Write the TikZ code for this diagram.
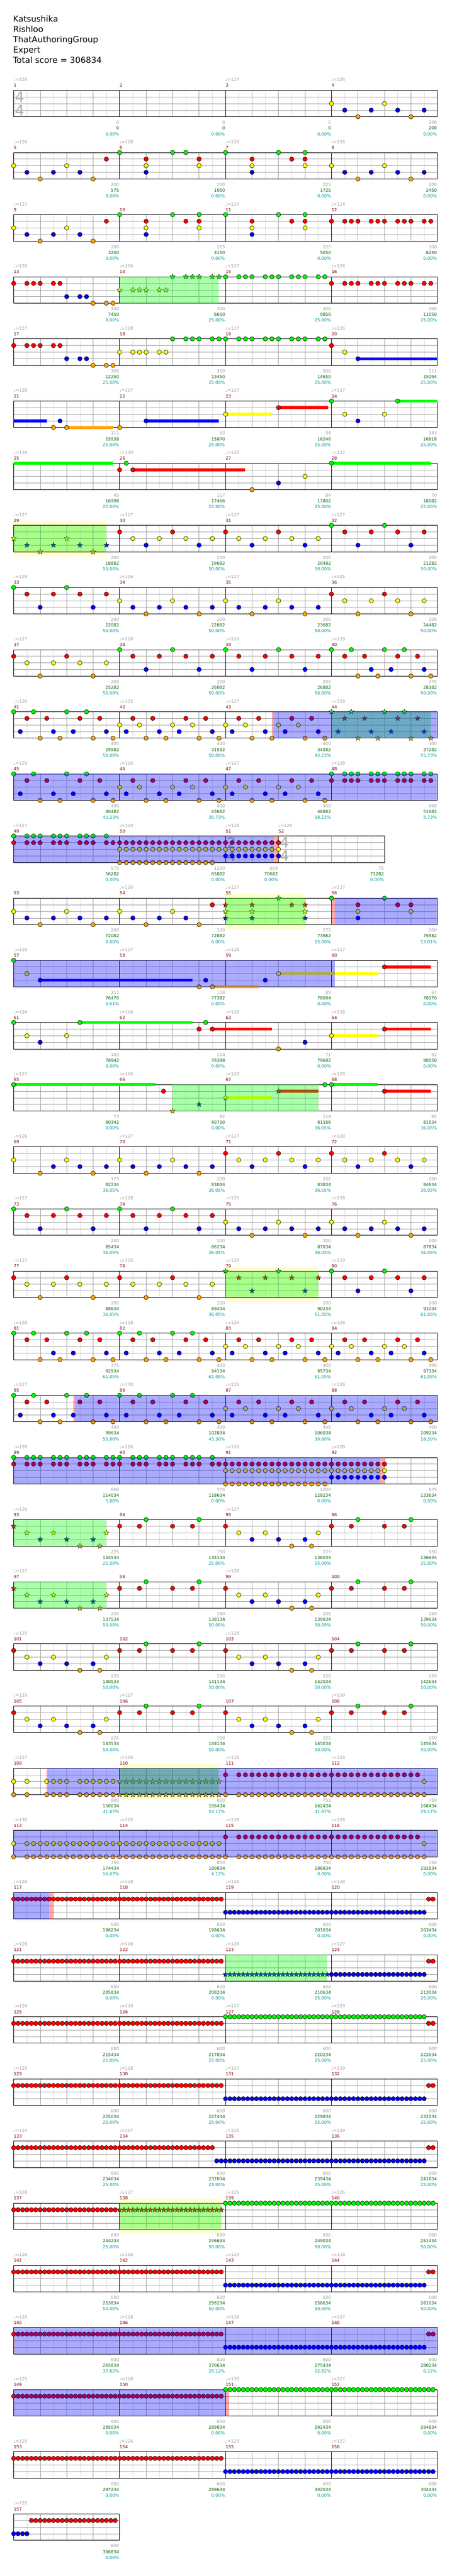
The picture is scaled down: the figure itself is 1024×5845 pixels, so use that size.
\documentclass[tikz,border=0pt]{standalone}
\usepackage{fontspec}
\setmainfont{DejaVu Sans}
\usetikzlibrary{positioning}
\definecolor{ln1}{HTML}{00FF00}
\definecolor{ln2}{HTML}{FF0000}
\definecolor{ln3}{HTML}{FFFF00}
\definecolor{ln4}{HTML}{0000FF}
\definecolor{ln5}{HTML}{FFA500}
\definecolor{lyel}{HTML}{FFFFCC}
\definecolor{lgray}{HTML}{DDDDDD}
\definecolor{mgray}{HTML}{A0A0A0}
\definecolor{tgray}{HTML}{9C9C9C}
\definecolor{mred}{HTML}{800000}
\definecolor{sgreen}{HTML}{006400}
\definecolor{steal}{HTML}{009999}
\definecolor{tsgray}{HTML}{AAAAAA}
\tikzstyle{titleline} = [font=\fontsize{18.9}{22}\selectfont, text height=14pt, text depth=4.5pt, inner sep=0pt]
\tikzstyle{smalltext} = [font=\fontsize{9.7}{11}\selectfont, text height=7pt, text depth=0pt, inner sep=0pt]
\tikzstyle{tempo} = [smalltext, text=tgray, anchor=west]
\tikzstyle{mnum} = [smalltext, text=mred, anchor=west]
\tikzstyle{score} = [smalltext, text=tgray, anchor=east]
\tikzstyle{total} = [smalltext, text=sgreen, anchor=east]
\tikzstyle{pct} = [smalltext, text=steal, anchor=east]
\tikzstyle{tsig} = [font=\fontsize{33}{33}\selectfont, text=tsgray, inner sep=0pt]
\tikzstyle{note} = [draw=black, line width=0.7pt]
\tikzstyle{starn} = [draw=black, line width=0.5pt]
\tikzstyle{halfline} = [draw=lgray, line width=0.7pt]
\tikzstyle{gridline} = [draw=mgray, line width=0.8pt]
\tikzstyle{barline} = [draw=black, line width=0.9pt]
\newcommand{\patA}{0/3,2/4,4/5,6/4,8/3,10/4,12/5,14/4}
\newcommand{\patB}{0/3,2/4,4/5,6/4,8/3,10/4,12/5,14/2}
\newcommand{\patC}{0/1,4/2,4/3,4/4,8/1,10/2,12/1,12/2,12/3}
\newcommand{\patD}{0/2,2/3,4/4,6/3,8/2,10/3,12/4,14/3}
\newcommand{\patE}{0/1,2/2,4/4,6/2,8/1,10/2,12/4,14/2}
\newcommand{\patF}{0/2,2/3,4/5,6/3,8/2,10/3,12/5,14/3}
\newcommand{\patG}{0/1,2/2,3/1,4/5,5/2,6/4,7/5,8/1,9/4,10/2,11/1,12/5,13/2,14/4,15/5}
\newcommand{\patH}{0/1,1/4,2/2,3/1,4/5,5/2,6/4,7/5,8/1,9/4,10/2,11/1,12/5,13/2,14/4,15/5}
\newcommand{\patI}{0/3,1/4,2/2,3/3,4/5,5/2,6/4,7/5,8/3,9/4,10/2,11/3,12/5,13/2,14/4,15/5}
\newcommand{\patJ}{0/2,2/3,4/4,6/3,8/4,10/5,12/4,13/5,14/3}
\newcommand{\patK}{0/2,3/2,4/1,8/2,11/2,12/1}
\newcommand{\posA}{0,2,3,4,6,7,8,10,11,12,14,15}
\newcommand{\posB}{0,2,3,4,5,6,7,8,9,10,11,12,13,14,15}
\newcommand{\chartmeas}[8]{%
  \pgfmathsetmacro{\mxe}{#2+60*#4}%
  \foreach \k in {1,...,#4} {\draw[halfline] (#2+60*\k-30,#3) -- (#2+60*\k-30,#3+60);}%
  \foreach \k in {1,...,#4} {\ifnum\k<#4\relax \draw[gridline] (#2+60*\k,#3) -- (#2+60*\k,#3+60);\fi}%
  \foreach \k in {15,30,45} {\draw[gridline] (#2,#3+\k) -- (\mxe,#3+\k);}%
  \draw[barline] (#2,#3) rectangle (\mxe,#3+60);%
  \ifx\relax#5\relax\else\node[tempo] (tp#1) at (#2-0.5,#3-24) {♩=#5};\fi
  \node[mnum] (mn#1) at (#2,#3-11) {#1};
  \node[score] (sc#1) at (\mxe-1,#3+73) {#6};
  \node[total] (tt#1) at (\mxe-1,#3+86) {#7};
  \node[pct] (pc#1) at (\mxe-1,#3+99) {#8};
}
\newcommand{\notedot}[3]{\filldraw[note, fill=#3] (#1,#2) circle (5);}
\newcommand{\starnote}[3]{\filldraw[starn, fill=#3] (#1,#2) +(-90:6.3) -- +(-54:2.6) -- +(-18:6.3) -- +(18:2.6) -- +(54:6.3) -- +(90:2.6) -- +(126:6.3) -- +(162:2.6) -- +(198:6.3) -- +(234:2.6) -- cycle;}
\newcommand{\chartnotes}[4]{\edef\ntlist{#4}\foreach \npos/\lnum in \ntlist {\notedot{#1+#3*\npos}{#2+15*\lnum-15}{ln\lnum}}}
\newcommand{\chartstars}[4]{\edef\ntlist{#4}\foreach \npos/\lnum in \ntlist {\starnote{#1+#3*\npos}{#2+15*\lnum-15}{ln\lnum}}}
\newcommand{\chartlane}[5]{\edef\ntlist{#5}\foreach \npos in \ntlist {\notedot{#1+#3*\npos}{#2+15*#4-15}{ln#4}}}
\newcommand{\chartstarlane}[5]{\edef\ntlist{#5}\foreach \npos in \ntlist {\starnote{#1+#3*\npos}{#2+15*#4-15}{ln#4}}}
\newcommand{\chartrun}[6]{\foreach \npos in {#5,...,#6} {\notedot{#1+#3*\npos}{#2+15*#4-15}{ln#4}}}
\newcommand{\chartstarrun}[6]{\foreach \npos in {#5,...,#6} {\starnote{#1+#3*\npos}{#2+15*#4-15}{ln#4}}}
\newcommand{\chartsus}[4]{\fill[ln#4] (#1,#3+15*#4-18.3) rectangle (#2,#3+15*#4-11.7);}
\newcommand{\spgreen}[3]{\fill[ln1, fill opacity=0.333] (#1,#3) rectangle (#2,#3+60);}
\newcommand{\spblue}[3]{\fill[ln4, fill opacity=0.333] (#1,#3) rectangle (#2,#3+60);}
\newcommand{\sppink}[3]{\fill[ln2, fill opacity=0.333] (#1,#3) rectangle (#2,#3+60);}
\newcommand{\spyellow}[3]{\fill[lyel] (#1,#3-10) rectangle (#2,#3+70);}
\newcommand{\timesig}[5]{\node[tsig] (tsa#1) at (#2+13.5,#3+15) {#4}; \node[tsig] (tsb#1) at (#2+13.5,#3+45) {#5};}
\begin{document}
\begin{tikzpicture}[x=1pt, y=-1pt]
\useasboundingbox (0,0) rectangle (1024,5845);
\fill[white] (0,0) rectangle (1024,5845);
\node (song) [titleline, anchor=base west] at (29.4,49.3) {Katsushika};
\node (artist) [titleline, below=4.6pt of song.south west, anchor=north west] {Rishloo};
\node (charter) [titleline, below=4.6pt of artist.south west, anchor=north west] {ThatAuthoringGroup};
\node (level) [titleline, below=4.6pt of charter.south west, anchor=north west] {Expert};
\node (scoreline) [titleline, below=4.6pt of level.south west, anchor=north west] {Total score = 306834};

\chartmeas{1}{31}{205}{4}{128}{0}{0}{0.00\%}
\chartmeas{2}{271}{205}{4}{}{0}{0}{0.00\%}
\chartmeas{3}{511}{205}{4}{127}{0}{0}{0.00\%}
\chartmeas{4}{751}{205}{4}{126}{200}{200}{0.00\%}
\timesig{1}{31}{205}{4}{4}
\chartnotes{751}{205}{15}{\patA}

\chartmeas{5}{31}{346}{4}{126}{200}{575}{0.00\%}
\chartmeas{6}{271}{346}{4}{128}{200}{1050}{0.00\%}
\chartmeas{7}{511}{346}{4}{128}{225}{1725}{0.00\%}
\chartmeas{8}{751}{346}{4}{126}{200}{2450}{0.00\%}
\chartnotes{31}{346}{15}{\patB}
\chartnotes{271}{346}{15}{0/1,4/2,4/3,4/4,8/1,10/1,12/2,12/3}
\chartnotes{511}{346}{15}{\patC}
\chartnotes{751}{346}{15}{\patA}

\chartmeas{9}{31}{487}{4}{127}{200}{3250}{0.00\%}
\chartmeas{10}{271}{487}{4}{}{225}{4150}{0.00\%}
\chartmeas{11}{511}{487}{4}{129}{225}{5050}{0.00\%}
\chartmeas{12}{751}{487}{4}{124}{300}{6250}{0.00\%}
\chartnotes{31}{487}{15}{\patB}
\chartnotes{271}{487}{15}{\patC}
\chartnotes{511}{487}{15}{\patC}
\chartlane{751}{487}{15}{2}{\posA}

\chartmeas{13}{31}{628}{4}{130}{300}{7450}{0.00\%}
\chartmeas{14}{271}{628}{4}{126}{300}{8650}{25.00\%}
\chartmeas{15}{511}{628}{4}{127}{300}{9850}{25.00\%}
\chartmeas{16}{751}{628}{4}{126}{300}{11050}{25.00\%}
\chartlane{31}{628}{15}{2}{0,2,3,4,6,7}
\chartlane{31}{628}{15}{4}{8,10,11}
\chartlane{31}{628}{15}{5}{12,14,15}
\chartstarlane{271}{628}{15}{3}{0,2,3,4,6,7}
\chartstarlane{271}{628}{15}{1}{8,10,11,12,14,15}
\chartlane{511}{628}{15}{1}{\posA}
\chartlane{751}{628}{15}{2}{\posA}
\spgreen{271}{496}{628}

\chartmeas{17}{31}{769}{4}{127}{300}{12250}{25.00\%}
\chartmeas{18}{271}{769}{4}{128}{300}{13450}{25.00\%}
\chartmeas{19}{511}{769}{4}{127}{300}{14650}{25.00\%}
\chartmeas{20}{751}{769}{4}{126}{111}{15094}{25.00\%}
\chartlane{31}{769}{15}{2}{0,2,3,4,6,7}
\chartlane{31}{769}{15}{4}{8,10,11}
\chartlane{31}{769}{15}{5}{12,14,15}
\chartlane{271}{769}{15}{3}{0,2,3,4,6,7}
\chartlane{271}{769}{15}{1}{8,10,11,12,14,15}
\chartlane{511}{769}{15}{1}{\posA}
\chartsus{811}{991}{769}{4}
\chartnotes{751}{769}{15}{0/2,2/3,4/4}

\chartmeas{21}{31}{910}{4}{128}{111}{15538}{25.00\%}
\chartmeas{22}{271}{910}{4}{127}{83}{15870}{25.00\%}
\chartmeas{23}{511}{910}{4}{127}{94}{16246}{25.00\%}
\chartmeas{24}{751}{910}{4}{127}{143}{16818}{25.00\%}
\chartsus{31}{106}{910}{4}
\chartsus{151}{256}{910}{5}
\chartsus{331}{496}{910}{4}
\chartsus{511}{616}{910}{3}
\chartsus{631}{743}{910}{2}
\chartsus{901}{991}{910}{1}
\chartnotes{31}{910}{15}{6/5,7/4,8/5}
\chartnotes{271}{910}{15}{0/5,4/4}
\chartnotes{511}{910}{15}{0/3,8/2}
\chartnotes{751}{910}{15}{0/1,2/3,4/4,8/3,10/1}

\chartmeas{25}{31}{1051}{4}{126}{45}{16998}{25.00\%}
\chartmeas{26}{271}{1051}{4}{130}{117}{17466}{25.00\%}
\chartmeas{27}{511}{1051}{4}{126}{84}{17802}{25.00\%}
\chartmeas{28}{751}{1051}{4}{127}{70}{18082}{25.00\%}
\chartsus{31}{256}{1051}{1}
\chartsus{301}{555}{1051}{2}
\chartsus{751}{976}{1051}{1}
\chartnotes{271}{1051}{15}{0/2,1/1,2/2}
\chartnotes{511}{1051}{15}{4/5,8/4,12/3}
\chartnotes{751}{1051}{15}{0/1}

\spyellow{31}{241}{1192}
\chartmeas{29}{31}{1192}{4}{127}{200}{18882}{50.00\%}
\chartmeas{30}{271}{1192}{4}{127}{200}{19682}{50.00\%}
\chartmeas{31}{511}{1192}{4}{127}{200}{20482}{50.00\%}
\chartmeas{32}{751}{1192}{4}{127}{200}{21282}{50.00\%}
\chartstars{31}{1192}{15}{\patA}
\chartnotes{271}{1192}{15}{\patD}
\chartnotes{511}{1192}{15}{\patD}
\chartnotes{751}{1192}{15}{\patE}
\spgreen{31}{241}{1192}

\chartmeas{33}{31}{1333}{4}{128}{200}{22082}{50.00\%}
\chartmeas{34}{271}{1333}{4}{126}{200}{22882}{50.00\%}
\chartmeas{35}{511}{1333}{4}{127}{200}{23682}{50.00\%}
\chartmeas{36}{751}{1333}{4}{125}{200}{24482}{50.00\%}
\chartnotes{31}{1333}{15}{\patE}
\chartnotes{271}{1333}{15}{\patA}
\chartnotes{511}{1333}{15}{\patA}
\chartnotes{751}{1333}{15}{\patF}

\chartmeas{37}{31}{1474}{4}{127}{200}{25282}{50.00\%}
\chartmeas{38}{271}{1474}{4}{128}{200}{26082}{50.00\%}
\chartmeas{39}{511}{1474}{4}{129}{200}{26882}{50.00\%}
\chartmeas{40}{751}{1474}{4}{129}{375}{28382}{50.00\%}
\chartnotes{31}{1474}{15}{\patF}
\chartnotes{271}{1474}{15}{\patE}
\chartnotes{511}{1474}{15}{\patE}
\chartnotes{751}{1474}{15}{\patG}

\chartmeas{41}{31}{1615}{4}{126}{400}{29982}{50.00\%}
\chartmeas{42}{271}{1615}{4}{125}{400}{31582}{50.00\%}
\chartmeas{43}{511}{1615}{4}{127}{400}{34082}{43.23\%}
\chartmeas{44}{751}{1615}{4}{126}{400}{37282}{55.73\%}
\sppink{615.5}{620}{1615}
\chartnotes{31}{1615}{15}{\patH}
\chartnotes{271}{1615}{15}{\patI}
\chartnotes{511}{1615}{15}{\patI}
\chartstars{751}{1615}{15}{\patH}
\spgreen{751}{976}{1615}
\spblue{620}{991}{1615}

\chartmeas{45}{31}{1756}{4}{129}{400}{40482}{43.23\%}
\chartmeas{46}{271}{1756}{4}{126}{400}{43682}{30.73\%}
\chartmeas{47}{511}{1756}{4}{127}{400}{46882}{18.23\%}
\chartmeas{48}{751}{1756}{4}{128}{600}{51682}{5.73\%}
\chartnotes{31}{1756}{15}{\patH}
\chartnotes{271}{1756}{15}{\patI}
\chartnotes{511}{1756}{15}{\patI}
\chartlane{751}{1756}{15}{1}{\posA}
\chartlane{751}{1756}{15}{2}{\posA}
\spblue{31}{991}{1756}

\chartmeas{49}{31}{1897}{4}{127}{575}{56282}{0.00\%}
\chartmeas{50}{271}{1897}{4}{124}{1200}{65882}{0.00\%}
\chartmeas{51}{511}{1897}{2}{128}{600}{70682}{0.00\%}
\chartmeas{52}{631}{1897}{4}{129}{75}{71282}{0.00\%}
\timesig{51}{511}{1897}{2}{4}
\timesig{52}{631}{1897}{4}{4}
\sppink{621}{631}{1897}
\chartlane{31}{1897}{15}{1}{0,2,3,4,6,7,8,10,11,12,14}
\chartlane{31}{1897}{15}{2}{\posA}
\chartrun{271}{1897}{15}{2}{0}{15}
\chartrun{271}{1897}{15}{3}{0}{15}
\chartrun{271}{1897}{15}{5}{0}{14}
\chartrun{511}{1897}{15}{2}{0}{7}
\chartrun{511}{1897}{15}{3}{0}{7}
\chartrun{511}{1897}{15}{4}{0}{7}
\chartnotes{631}{1897}{15}{0/2,0/3,0/4}
\spblue{31}{621}{1897}

\spyellow{511}{691}{2038}
\chartmeas{53}{31}{2038}{4}{}{200}{72082}{0.00\%}
\chartmeas{54}{271}{2038}{4}{126}{200}{72882}{0.00\%}
\chartmeas{55}{511}{2038}{4}{127}{275}{73982}{25.00\%}
\chartmeas{56}{751}{2038}{4}{127}{200}{75582}{13.01\%}
\sppink{751}{759}{2038}
\chartnotes{31}{2038}{15}{\patA}
\chartnotes{271}{2038}{15}{\patB}
\chartstars{511}{2038}{15}{0/2,0/3,0/4,4/2,4/3,4/4,8/1,10/2,12/2,12/3,12/4}
\chartnotes{751}{2038}{15}{0/1,4/2,4/3,4/4,8/1,10/2,12/2,12/3}
\spgreen{511}{691}{2038}
\spblue{759}{991}{2038}

\chartmeas{57}{31}{2179}{4}{125}{111}{76470}{0.51\%}
\chartmeas{58}{271}{2179}{4}{127}{114}{77382}{0.00\%}
\chartmeas{59}{511}{2179}{4}{128}{89}{78094}{0.00\%}
\chartmeas{60}{751}{2179}{4}{127}{67}{78370}{0.00\%}
\chartsus{91}{436}{2179}{4}
\chartsus{481}{586}{2179}{5}
\chartsus{631}{856}{2179}{3}
\chartsus{871}{976}{2179}{2}
\chartnotes{31}{2179}{15}{0/1,2/3,4/4}
\chartnotes{271}{2179}{15}{12/5,13/4,14/5}
\chartnotes{511}{2179}{15}{6/4,8/3}
\chartnotes{751}{2179}{15}{8/2}
\spblue{31}{759}{2179}

\chartmeas{61}{31}{2320}{4}{126}{143}{78942}{0.00\%}
\chartmeas{62}{271}{2320}{4}{126}{114}{79398}{0.00\%}
\chartmeas{63}{511}{2320}{4}{128}{71}{79682}{0.00\%}
\chartmeas{64}{751}{2320}{4}{128}{92}{80050}{0.00\%}
\chartsus{181}{436}{2320}{1}
\chartsus{481}{616}{2320}{2}
\chartsus{751}{856}{2320}{3}
\chartsus{871}{976}{2320}{2}
\chartnotes{31}{2320}{15}{0/1,2/3,4/4,8/3,10/1}
\chartnotes{271}{2320}{15}{12/2,13/1,14/2}
\chartnotes{511}{2320}{15}{8/5,12/4}
\chartnotes{751}{2320}{15}{0/3,8/2}

\chartmeas{65}{31}{2461}{4}{127}{73}{80342}{0.00\%}
\chartmeas{66}{271}{2461}{4}{126}{92}{80710}{0.00\%}
\chartmeas{67}{511}{2461}{4}{128}{114}{81166}{36.05\%}
\chartmeas{68}{751}{2461}{4}{128}{92}{81534}{36.05\%}
\chartsus{31}{353}{2461}{1}
\chartsus{511}{616}{2461}{3}
\chartsus{631}{721}{2461}{2}
\chartsus{751}{856}{2461}{1}
\chartsus{871}{976}{2461}{2}
\chartnotes{31}{2461}{15}{0/1}
\chartnotes{271}{2461}{15}{6.63/2}
\chartstars{271}{2461}{15}{8/5,12/4}
\chartstars{511}{2461}{15}{0/3,8/2}
\chartnotes{511}{2461}{15}{15/1}
\chartnotes{751}{2461}{15}{0/1,8/2}
\spgreen{391}{721}{2461}

\chartmeas{69}{31}{2602}{4}{126}{175}{82234}{36.05\%}
\chartmeas{70}{271}{2602}{4}{127}{200}{83034}{36.05\%}
\chartmeas{71}{511}{2602}{4}{127}{200}{83834}{36.05\%}
\chartmeas{72}{751}{2602}{4}{128}{200}{84634}{36.05\%}
\chartnotes{31}{2602}{15}{0/3,4/5,6/4,8/3,10/4,12/5,14/4}
\chartnotes{271}{2602}{15}{\patA}
\chartnotes{511}{2602}{15}{\patD}
\chartnotes{751}{2602}{15}{\patD}

\chartmeas{73}{31}{2743}{4}{127}{200}{85434}{36.05\%}
\chartmeas{74}{271}{2743}{4}{128}{200}{86234}{36.05\%}
\chartmeas{75}{511}{2743}{4}{125}{200}{87034}{36.05\%}
\chartmeas{76}{751}{2743}{4}{128}{200}{87834}{36.05\%}
\chartnotes{31}{2743}{15}{\patE}
\chartnotes{271}{2743}{15}{\patE}
\chartnotes{511}{2743}{15}{\patA}
\chartnotes{751}{2743}{15}{\patA}

\spyellow{511}{721}{2884}
\chartmeas{77}{31}{2884}{4}{127}{200}{88634}{36.05\%}
\chartmeas{78}{271}{2884}{4}{126}{200}{89434}{36.05\%}
\chartmeas{79}{511}{2884}{4}{128}{200}{90234}{61.05\%}
\chartmeas{80}{751}{2884}{4}{129}{200}{91034}{61.05\%}
\chartnotes{31}{2884}{15}{\patF}
\chartnotes{271}{2884}{15}{\patF}
\chartstars{511}{2884}{15}{\patE}
\chartnotes{751}{2884}{15}{\patE}
\spgreen{511}{721}{2884}

\chartmeas{81}{31}{3025}{4}{128}{375}{92534}{61.05\%}
\chartmeas{82}{271}{3025}{4}{128}{400}{94134}{61.05\%}
\chartmeas{83}{511}{3025}{4}{126}{400}{95734}{61.05\%}
\chartmeas{84}{751}{3025}{4}{126}{400}{97334}{61.05\%}
\chartnotes{31}{3025}{15}{\patG}
\chartnotes{271}{3025}{15}{\patH}
\chartnotes{511}{3025}{15}{\patI}
\chartnotes{751}{3025}{15}{\patI}

\chartmeas{85}{31}{3166}{4}{127}{400}{99634}{55.80\%}
\chartmeas{86}{271}{3166}{4}{130}{400}{102834}{43.30\%}
\chartmeas{87}{511}{3166}{4}{126}{400}{106034}{30.80\%}
\chartmeas{88}{751}{3166}{4}{126}{400}{109234}{18.30\%}
\sppink{166}{170}{3166}
\chartnotes{31}{3166}{15}{\patH}
\chartnotes{271}{3166}{15}{\patH}
\chartnotes{511}{3166}{15}{\patI}
\chartnotes{751}{3166}{15}{\patI}
\spblue{170}{991}{3166}

\chartmeas{89}{31}{3307}{4}{126}{600}{114034}{5.80\%}
\chartmeas{90}{271}{3307}{4}{126}{575}{118634}{0.00\%}
\chartmeas{91}{511}{3307}{4}{126}{1200}{128234}{0.00\%}
\chartmeas{92}{751}{3307}{4}{128}{675}{133634}{0.00\%}
\sppink{862}{871}{3307}
\chartlane{31}{3307}{15}{1}{\posA}
\chartlane{31}{3307}{15}{2}{\posA}
\chartlane{271}{3307}{15}{1}{0,2,3,4,6,7,8,10,11,12,14}
\chartlane{271}{3307}{15}{2}{\posA}
\chartrun{511}{3307}{15}{2}{0}{15}
\chartrun{511}{3307}{15}{3}{0}{15}
\chartrun{511}{3307}{15}{5}{0}{15}
\chartrun{751}{3307}{15}{2}{0}{8}
\chartrun{751}{3307}{15}{3}{0}{8}
\chartrun{751}{3307}{15}{4}{0}{8}
\spblue{31}{862}{3307}

\chartmeas{93}{31}{3448}{4}{126}{225}{134534}{25.00\%}
\chartmeas{94}{271}{3448}{4}{}{150}{135134}{25.00\%}
\chartmeas{95}{511}{3448}{4}{127}{225}{136034}{25.00\%}
\chartmeas{96}{751}{3448}{4}{}{150}{136634}{25.00\%}
\chartstars{31}{3448}{15}{\patJ}
\chartnotes{271}{3448}{15}{\patK}
\chartnotes{511}{3448}{15}{\patJ}
\chartnotes{751}{3448}{15}{\patK}
\spgreen{31}{241}{3448}

\chartmeas{97}{31}{3589}{4}{127}{225}{137534}{50.00\%}
\chartmeas{98}{271}{3589}{4}{}{150}{138134}{50.00\%}
\chartmeas{99}{511}{3589}{4}{128}{225}{139034}{50.00\%}
\chartmeas{100}{751}{3589}{4}{}{150}{139634}{50.00\%}
\chartstars{31}{3589}{15}{\patJ}
\chartnotes{271}{3589}{15}{\patK}
\chartnotes{511}{3589}{15}{\patJ}
\chartnotes{751}{3589}{15}{\patK}
\spgreen{31}{241}{3589}

\chartmeas{101}{31}{3730}{4}{125}{225}{140534}{50.00\%}
\chartmeas{102}{271}{3730}{4}{}{150}{141134}{50.00\%}
\chartmeas{103}{511}{3730}{4}{128}{225}{142034}{50.00\%}
\chartmeas{104}{751}{3730}{4}{}{150}{142634}{50.00\%}
\chartnotes{31}{3730}{15}{\patJ}
\chartnotes{271}{3730}{15}{\patK}
\chartnotes{511}{3730}{15}{\patJ}
\chartnotes{751}{3730}{15}{\patK}

\chartmeas{105}{31}{3871}{4}{129}{225}{143534}{50.00\%}
\chartmeas{106}{271}{3871}{4}{127}{150}{144134}{50.00\%}
\chartmeas{107}{511}{3871}{4}{}{225}{145034}{50.00\%}
\chartmeas{108}{751}{3871}{4}{130}{150}{145634}{50.00\%}
\chartnotes{31}{3871}{15}{\patJ}
\chartnotes{271}{3871}{15}{\patK}
\chartnotes{511}{3871}{15}{\patJ}
\chartnotes{751}{3871}{15}{\patK}

\spyellow{271}{496}{4012}
\chartmeas{109}{31}{4012}{4}{127}{600}{150034}{41.67\%}
\chartmeas{110}{271}{4012}{4}{126}{800}{156434}{54.17\%}
\chartmeas{111}{511}{4012}{4}{128}{750}{162434}{41.67\%}
\chartmeas{112}{751}{4012}{4}{125}{750}{168434}{29.17\%}
\sppink{105}{108}{4012}
\chartlane{31}{4012}{15}{3}{0,2,5,6,7,8,10,11,12,13,14,15}
\chartlane{31}{4012}{15}{5}{0,2,5,6,7,8,10,11,12,13,14,15}
\chartstarrun{271}{4012}{15}{3}{0}{15}
\chartstarrun{271}{4012}{15}{5}{0}{15}
\chartlane{511}{4012}{15}{2}{\posB}
\chartlane{511}{4012}{15}{5}{\posB}
\chartrun{751}{4012}{15}{2}{0}{13}
\chartrun{751}{4012}{15}{5}{0}{14}
\chartnotes{751}{4012}{15}{14/3}
\spgreen{271}{496}{4012}
\spblue{108}{991}{4012}

\chartmeas{113}{31}{4153}{4}{130}{750}{174434}{16.67\%}
\chartmeas{114}{271}{4153}{4}{125}{800}{180834}{4.17\%}
\chartmeas{115}{511}{4153}{4}{128}{750}{186834}{0.00\%}
\chartmeas{116}{751}{4153}{4}{128}{750}{192834}{0.00\%}
\chartlane{31}{4153}{15}{3}{\posB}
\chartlane{31}{4153}{15}{5}{\posB}
\chartrun{271}{4153}{15}{3}{0}{15}
\chartrun{271}{4153}{15}{5}{0}{15}
\chartlane{511}{4153}{15}{2}{\posB}
\chartlane{511}{4153}{15}{5}{\posB}
\chartrun{751}{4153}{15}{2}{0}{13}
\chartrun{751}{4153}{15}{5}{0}{14}
\chartnotes{751}{4153}{15}{14/3}
\spblue{31}{991}{4153}

\chartmeas{117}{31}{4294}{4}{126}{600}{196234}{0.00\%}
\chartmeas{118}{271}{4294}{4}{128}{600}{198634}{0.00\%}
\chartmeas{119}{511}{4294}{4}{128}{600}{201034}{0.00\%}
\chartmeas{120}{751}{4294}{4}{128}{600}{203434}{0.00\%}
\sppink{111}{121}{4294}
\chartrun{31}{4294}{10}{2}{0}{23}
\chartrun{271}{4294}{10}{2}{0}{23}
\chartrun{511}{4294}{10}{4}{0}{23}
\chartrun{751}{4294}{10}{4}{0}{21}
\chartrun{751}{4294}{10}{2}{22}{23}
\spblue{31}{111}{4294}

\chartmeas{121}{31}{4435}{4}{126}{600}{205834}{0.00\%}
\chartmeas{122}{271}{4435}{4}{126}{600}{208234}{0.00\%}
\chartmeas{123}{511}{4435}{4}{128}{600}{210634}{25.00\%}
\chartmeas{124}{751}{4435}{4}{127}{600}{213034}{25.00\%}
\chartrun{31}{4435}{10}{2}{0}{23}
\chartrun{271}{4435}{10}{2}{0}{23}
\chartstarrun{511}{4435}{10}{4}{0}{23}
\chartrun{751}{4435}{10}{4}{0}{21}
\chartrun{751}{4435}{10}{2}{22}{23}
\spgreen{511}{741}{4435}

\chartmeas{125}{31}{4576}{4}{124}{600}{215434}{25.00\%}
\chartmeas{126}{271}{4576}{4}{130}{600}{217834}{25.00\%}
\chartmeas{127}{511}{4576}{4}{127}{600}{220234}{25.00\%}
\chartmeas{128}{751}{4576}{4}{129}{600}{222634}{25.00\%}
\chartrun{31}{4576}{10}{2}{0}{23}
\chartrun{271}{4576}{10}{2}{0}{23}
\chartrun{511}{4576}{10}{1}{0}{23}
\chartrun{751}{4576}{10}{1}{0}{21}
\chartrun{751}{4576}{10}{2}{22}{23}

\chartmeas{129}{31}{4717}{4}{125}{600}{225034}{25.00\%}
\chartmeas{130}{271}{4717}{4}{128}{600}{227434}{25.00\%}
\chartmeas{131}{511}{4717}{4}{127}{600}{229834}{25.00\%}
\chartmeas{132}{751}{4717}{4}{129}{600}{232234}{25.00\%}
\chartrun{31}{4717}{10}{2}{0}{23}
\chartrun{271}{4717}{10}{2}{0}{23}
\chartrun{511}{4717}{10}{4}{0}{23}
\chartrun{751}{4717}{10}{4}{0}{21}
\chartrun{751}{4717}{10}{2}{22}{23}

\chartmeas{133}{31}{4858}{4}{124}{600}{234634}{25.00\%}
\chartmeas{134}{271}{4858}{4}{127}{600}{237034}{25.00\%}
\chartmeas{135}{511}{4858}{4}{126}{600}{239434}{25.00\%}
\chartmeas{136}{751}{4858}{4}{129}{600}{241834}{25.00\%}
\chartrun{31}{4858}{10}{2}{0}{23}
\chartrun{271}{4858}{10}{2}{0}{21}
\chartrun{271}{4858}{10}{4}{22}{23}
\chartrun{511}{4858}{10}{4}{0}{23}
\chartrun{751}{4858}{10}{4}{0}{21}
\chartrun{751}{4858}{10}{2}{22}{23}

\spyellow{271}{501}{4999}
\chartmeas{137}{31}{4999}{4}{128}{600}{244234}{25.00\%}
\chartmeas{138}{271}{4999}{4}{127}{600}{246634}{50.00\%}
\chartmeas{139}{511}{4999}{4}{126}{600}{249034}{50.00\%}
\chartmeas{140}{751}{4999}{4}{126}{600}{251434}{50.00\%}
\chartrun{31}{4999}{10}{2}{0}{23}
\chartstarrun{271}{4999}{10}{2}{0}{23}
\chartrun{511}{4999}{10}{1}{0}{23}
\chartrun{751}{4999}{10}{1}{0}{23}
\spgreen{271}{501}{4999}

\chartmeas{141}{31}{5140}{4}{126}{600}{253834}{50.00\%}
\chartmeas{142}{271}{5140}{4}{126}{600}{256234}{50.00\%}
\chartmeas{143}{511}{5140}{4}{129}{600}{258634}{50.00\%}
\chartmeas{144}{751}{5140}{4}{128}{600}{261034}{50.00\%}
\chartrun{31}{5140}{10}{2}{0}{23}
\chartrun{271}{5140}{10}{2}{0}{23}
\chartrun{511}{5140}{10}{4}{0}{23}
\chartrun{751}{5140}{10}{4}{0}{21}
\chartrun{751}{5140}{10}{2}{22}{23}

\chartmeas{145}{31}{5281}{4}{125}{600}{265834}{37.62\%}
\chartmeas{146}{271}{5281}{4}{128}{600}{270634}{25.12\%}
\chartmeas{147}{511}{5281}{4}{128}{600}{275434}{12.62\%}
\chartmeas{148}{751}{5281}{4}{127}{600}{280234}{0.12\%}
\sppink{31}{32.5}{5281}
\chartrun{31}{5281}{10}{2}{0}{23}
\chartrun{271}{5281}{10}{2}{0}{23}
\chartrun{511}{5281}{10}{4}{0}{23}
\chartrun{751}{5281}{10}{4}{0}{21}
\chartrun{751}{5281}{10}{2}{22}{23}
\spblue{32.5}{991}{5281}

\chartmeas{149}{31}{5422}{4}{125}{600}{285034}{0.00\%}
\chartmeas{150}{271}{5422}{4}{128}{600}{289834}{0.00\%}
\chartmeas{151}{511}{5422}{4}{130}{600}{292434}{0.00\%}
\chartmeas{152}{751}{5422}{4}{127}{600}{294834}{0.00\%}
\sppink{511}{519}{5422}
\chartrun{31}{5422}{10}{2}{0}{23}
\chartrun{271}{5422}{10}{2}{0}{23}
\chartrun{511}{5422}{10}{1}{0}{23}
\chartrun{751}{5422}{10}{1}{0}{23}
\spblue{31}{511}{5422}

\chartmeas{153}{31}{5563}{4}{125}{600}{297234}{0.00\%}
\chartmeas{154}{271}{5563}{4}{126}{600}{299634}{0.00\%}
\chartmeas{155}{511}{5563}{4}{129}{600}{302034}{0.00\%}
\chartmeas{156}{751}{5563}{4}{127}{600}{304434}{0.00\%}
\chartrun{31}{5563}{10}{2}{0}{23}
\chartrun{271}{5563}{10}{2}{0}{23}
\chartrun{511}{5563}{10}{4}{0}{23}
\chartrun{751}{5563}{10}{4}{0}{23}

\chartmeas{157}{31}{5704}{4}{125}{600}{306834}{0.00\%}
\chartrun{31}{5704}{10}{4}{0}{3}
\chartrun{31}{5704}{10}{2}{4}{23}
\end{tikzpicture}
\end{document}
